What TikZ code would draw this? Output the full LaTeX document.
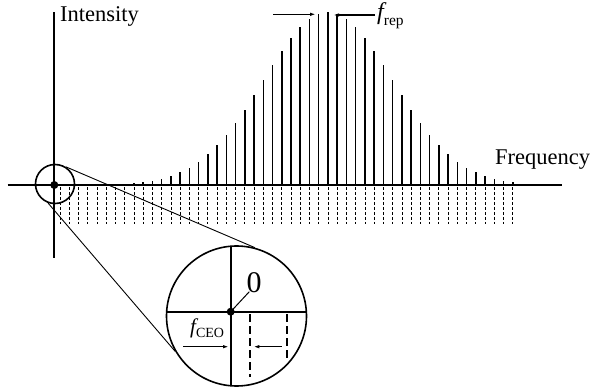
\documentclass[tikz,border=0pt]{standalone}
\usepackage{fontspec}
\setmainfont{Liberation Serif}
\usetikzlibrary{arrows.meta}

\newcommand{\freqsym}[4]{{\fontsize{#1}{#1}\selectfont\itshape f}{\fontsize{#2}{#2}\selectfont\raisebox{-#3}{#4}}}

\begin{document}
\begin{tikzpicture}[x=1pt,y=-1pt,
  axisline/.style={line width=2pt},
  combline/.style={line width=1.5pt},
  ghostline/.style={line width=0.7pt,dash pattern=on 3pt off 2pt},
  lensline/.style={line width=1.6pt},
  gapline/.style={line width=2.2pt,dash pattern=on 8pt off 4pt},
  spacing/.style={line width=1.2pt,-{Latex[length=6pt,width=3.5pt]}},
  axistext/.style={inner sep=0pt,anchor=base west}]
\useasboundingbox (0,0) rectangle (592,390);

% axes
\coordinate (origin) at (54.3,185);
\coordinate (ytop) at (54.3,11.7);
\coordinate (ybot) at (54.3,258);
\coordinate (xleft) at (7.5,185);
\coordinate (xright) at (562,185);
\draw[axisline] (ybot) -- (ytop);
\draw[axisline] (xleft) -- (xright);

% comb lines and their shifted copies
\foreach \n in {0,...,49} {
  \pgfmathsetmacro{\xx}{60+9.24*\n}
  \draw[ghostline] (\xx,187) -- (\xx,224);
}
\foreach \n in {7,...,49} {
  \pgfmathsetmacro{\xx}{60+9.24*\n}
  \pgfmathsetmacro{\hh}{173*exp(-((\n-29)^2)/97.5)}
  \draw[combline] (\xx,185) -- (\xx,185-\hh);
}

\fill (origin) circle (4);
\node[axistext,font=\fontsize{22.5}{24}\selectfont] (ylabel) at (60,21.7) {Intensity};
\node[axistext,font=\fontsize{22.5}{24}\selectfont] (xlabel) at (495,165) {Frequency};

% repetition rate
\coordinate (repLa) at (273,14.3);
\coordinate (repLb) at (316,14.3);
\coordinate (repRa) at (375,15);
\coordinate (repRb) at (333,15);
\draw[spacing] (repLa) -- (repLb);
\draw[spacing] (repRa) -- (repRb);
\node[axistext] (replabel) at (377,20) {\freqsym{24pt}{15.5pt}{6pt}{rep}};

% magnifier
\node[circle,draw,lensline,minimum size=39pt,inner sep=0pt] (zoomsrc) at (55,184) {};
\node[circle,draw,lensline,minimum size=140pt,inner sep=0pt] (lens) at (236.5,316) {};
\draw[line width=0.9pt] (zoomsrc.58) -- (lens.75);
\draw[line width=0.9pt] (zoomsrc.250) -- (lens.210);

\begin{scope}
\clip (236.5,316) circle (70);
\draw[lensline] (230.7,240) -- (230.7,392);
\draw[lensline] (160,311.7) -- (312,311.7);
\end{scope}
\coordinate (lenszero) at (230.7,311.7);
\fill (lenszero) circle (4);
\node[axistext,font=\fontsize{30}{32}\selectfont] (zero) at (246.5,293) {0};
\coordinate (zerotip) at (249.3,291.7);
\draw[line width=1pt] (lenszero) -- (zerotip);

\coordinate (gapAtop) at (250,314);
\coordinate (gapAbot) at (250,377);
\coordinate (gapBtop) at (286.7,314);
\coordinate (gapBbot) at (286.7,360);
\draw[gapline] (gapAtop) -- (gapAbot);
\draw[gapline] (gapBtop) -- (gapBbot);

\coordinate (ceoLa) at (183.3,346.7);
\coordinate (ceoLb) at (229,346.7);
\coordinate (ceoRa) at (281.7,346.7);
\coordinate (ceoRb) at (253.3,346.7);
\draw[spacing] (ceoLa) -- (ceoLb);
\draw[spacing] (ceoRa) -- (ceoRb);
\node[axistext] (ceolabel) at (190,334) {\freqsym{21pt}{14pt}{3pt}{CEO}};
\end{tikzpicture}
\end{document}
